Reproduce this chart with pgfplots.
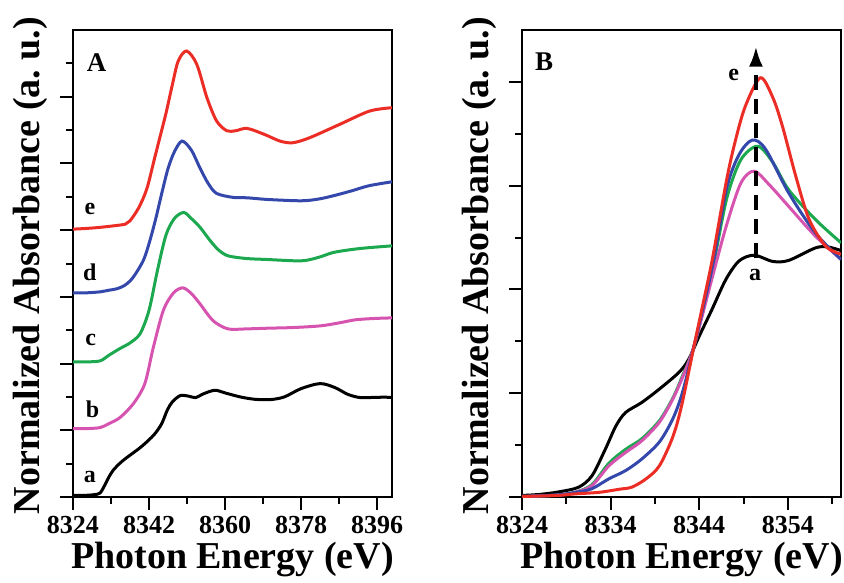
\documentclass[border=0pt]{standalone}
\usepackage{fontspec}
\setmainfont{Liberation Serif}
\usepackage{pgfplots}
\pgfplotsset{compat=1.18}
\usetikzlibrary{arrows.meta}
\definecolor{cRed}{RGB}{236,45,38}
\definecolor{cBlue}{RGB}{52,72,172}
\definecolor{cGreen}{RGB}{28,168,78}
\definecolor{cMag}{RGB}{214,84,176}
\tikzset{lab/.style={font=\bfseries\fontsize{24}{24}\selectfont}}
\newcommand{\lblfont}{\bfseries\fontsize{38}{38}\selectfont}
\pgfplotsset{
  panel/.style={
    scale only axis, width=319pt, height=467pt,
    axis line style={line width=2.4pt},
    every tick/.style={black, line width=2pt},
    tick align=outside, major tick length=13pt, minor tick length=7pt,
    xtick pos=left, ytick pos=left,
    xticklabel style={font=\bfseries\fontsize{26}{26}\selectfont, yshift=-3pt},
    /pgf/number format/assume math mode=true,
    /pgf/number format/1000 sep={},
    yticklabels={},
    xlabel={Photon Energy (eV)},
    ylabel={Normalized Absorbance (a.\ u.)},
    every axis x label/.style={at={(rel axis cs:0.5,0)}, yshift=-63pt, anchor=center, font=\lblfont},
    every axis y label/.style={at={(rel axis cs:0,0.5)}, xshift=-43pt, yshift=-2pt, rotate=90, anchor=center, font=\lblfont},
    every axis plot/.append style={line width=3pt, smooth},
  },
}
\begin{document}
\begin{tikzpicture}
\path[use as bounding box] (-73pt,-85pt) rectangle (771pt,497pt);
% ---------- Panel A ----------
\begin{axis}[panel, at={(0pt,0pt)},
  xmin=8324, xmax=8399.5, ymin=0, ymax=14,
  xtick={8324,8342,8360,8378,8396}, minor xtick={8333,8351,8369,8387},
  ytick={0,2,4,6,8,10,12}, minor ytick={1,3,5,7,9,11,13}]
\addplot[black] coordinates {(8324,0.05)(8327,0.05)(8329,0.07)(8330.4,0.12)(8331.5,0.35)(8332.5,0.6)(8333.5,0.8)(8335,1.0)(8336.3,1.14)(8338,1.3)(8339.9,1.48)(8341.7,1.68)(8343.4,1.9)(8345,2.2)(8346.3,2.6)(8347.5,2.85)(8349.4,3.04)(8351.5,3.02)(8353,2.98)(8355,3.1)(8357.6,3.2)(8360,3.12)(8363.6,3.0)(8367,2.93)(8370.7,2.92)(8374,3.0)(8378,3.25)(8382.5,3.4)(8386,3.28)(8389,3.08)(8392,2.98)(8396,2.99)(8399.5,2.99)};
\addplot[cMag] coordinates {(8324,2.05)(8327,2.05)(8330.4,2.08)(8332.5,2.2)(8335.1,2.38)(8338.3,2.8)(8341,3.4)(8343,4.48)(8345.4,5.6)(8347.8,6.12)(8350,6.27)(8352,6.1)(8354,5.8)(8357.2,5.28)(8360.7,5.04)(8365,5.04)(8370,5.06)(8376,5.08)(8382.5,5.13)(8387,5.22)(8390.7,5.31)(8395,5.35)(8399.5,5.37)};
\addplot[cGreen] coordinates {(8324,4.05)(8327,4.05)(8330.4,4.08)(8332.5,4.25)(8335.1,4.45)(8337.5,4.62)(8339.9,4.9)(8342,5.6)(8344,6.8)(8346,7.85)(8348,8.35)(8350.2,8.53)(8352,8.35)(8354.1,8.08)(8356.5,7.68)(8358.5,7.4)(8360.7,7.23)(8365,7.15)(8370,7.12)(8378,7.08)(8382,7.18)(8385.6,7.33)(8390,7.42)(8393.6,7.47)(8399.5,7.53)};
\addplot[cBlue] coordinates {(8324,6.12)(8327,6.12)(8330.4,6.15)(8332.5,6.2)(8334.3,6.24)(8336.3,6.35)(8338.2,6.58)(8340.6,7.08)(8342,7.6)(8343.5,8.3)(8345,9.1)(8346.5,9.85)(8348,10.35)(8349.8,10.67)(8352,10.4)(8354.1,9.85)(8356,9.4)(8358,9.1)(8362,8.98)(8365.2,8.97)(8370,8.92)(8378,8.88)(8382,8.93)(8385.6,9.03)(8390,9.18)(8394,9.33)(8399.5,9.45)};
\addplot[cRed] coordinates {(8324,8.03)(8327,8.05)(8330.1,8.08)(8333,8.12)(8336.4,8.18)(8337.5,8.28)(8339.6,8.68)(8341.5,9.25)(8343.2,10.1)(8344.6,10.8)(8346,11.5)(8347.5,12.35)(8348.9,13.07)(8350.9,13.37)(8353.3,12.97)(8355.7,11.97)(8358,11.27)(8360.4,10.98)(8362.5,10.98)(8365.2,11.05)(8369.3,10.87)(8373,10.67)(8376,10.62)(8380,10.77)(8387.1,11.17)(8394.2,11.57)(8399.5,11.67)};
\node[lab, font=\bfseries\fontsize{27}{27}\selectfont] at (axis cs:8329.6,13.02) {A};
\node[lab] at (axis cs:8328,8.63) {e};
\node[lab] at (axis cs:8328,6.73) {d};
\node[lab] at (axis cs:8328.2,4.71) {c};
\node[lab] at (axis cs:8328.6,2.64) {b};
\node[lab] at (axis cs:8328,0.61) {a};
\end{axis}
% ---------- Panel B ----------
\begin{axis}[panel, at={(449pt,0pt)},
  xmin=8324, xmax=8360, ymin=0, ymax=9,
  xtick={8324,8334,8344,8354}, minor xtick={8329,8339,8349,8359},
  ytick={0,2,4,6,8}, minor ytick={1,3,5,7}]
\addplot[black] coordinates {(8324,0.03)(8326,0.05)(8328.2,0.1)(8330.4,0.19)(8331.9,0.41)(8333.4,0.92)(8334.6,1.37)(8335.7,1.63)(8337.5,1.82)(8339.5,2.08)(8341.7,2.4)(8342.8,2.65)(8344,3.1)(8345.4,3.6)(8347,4.19)(8348.5,4.55)(8350.2,4.66)(8352.3,4.54)(8354.1,4.56)(8357.1,4.8)(8358.5,4.82)(8360,4.75)};
\addplot[cGreen] coordinates {(8324,0.01)(8326,0.02)(8328.2,0.04)(8330,0.09)(8331.9,0.24)(8333.8,0.65)(8335.7,0.92)(8337.5,1.12)(8339.5,1.47)(8341,1.9)(8342.1,2.33)(8343.4,2.9)(8345.5,4.4)(8347.1,5.75)(8348.7,6.5)(8350.6,6.76)(8352.3,6.45)(8354.1,5.92)(8357.1,5.35)(8360,4.9)};
\addplot[cMag] coordinates {(8324,0.01)(8326,0.02)(8328.2,0.04)(8330,0.09)(8331.9,0.22)(8333.8,0.6)(8335.7,0.86)(8337.5,1.08)(8339.5,1.44)(8341,1.88)(8342.1,2.3)(8343.4,2.9)(8345.5,4.25)(8347.1,5.25)(8348.7,6.05)(8350.2,6.28)(8352,6.0)(8354.1,5.6)(8357.1,5.03)(8360,4.58)};
\addplot[cBlue] coordinates {(8324,0.01)(8328,0.04)(8330.4,0.1)(8331.9,0.16)(8333.8,0.35)(8335.7,0.51)(8337.5,0.73)(8339.5,1.06)(8341,1.5)(8342.1,2.01)(8343.4,2.9)(8345.5,4.45)(8347.1,5.95)(8348.5,6.6)(8350,6.88)(8351.5,6.7)(8354.1,5.86)(8357.1,5.09)(8360,4.58)};
\addplot[cRed] coordinates {(8324,0.01)(8328,0.03)(8330,0.06)(8332.7,0.09)(8335,0.15)(8336.4,0.19)(8338,0.35)(8339.5,0.6)(8341,1.15)(8342,1.75)(8343.4,2.9)(8344.4,3.7)(8345.5,4.6)(8347.1,6.12)(8348.1,6.88)(8349.2,7.53)(8350.9,8.08)(8352.3,7.7)(8353.4,7.14)(8354.9,6.18)(8356.4,5.35)(8358.3,4.83)(8360,4.68)};
\draw[line width=3.2pt, dash pattern=on 15pt off 9pt, -{Latex[length=20pt,width=14pt]}] (axis cs:8350.4,4.6) -- (axis cs:8350.4,8.68);
\node[lab, font=\bfseries\fontsize{27}{27}\selectfont] at (axis cs:8326.5,8.39) {B};
\node[lab] at (axis cs:8347.9,8.13) {e};
\node[lab, fill=white, inner sep=0.5pt] at (axis cs:8350.3,4.27) {a};
\end{axis}
\end{tikzpicture}
\end{document}
